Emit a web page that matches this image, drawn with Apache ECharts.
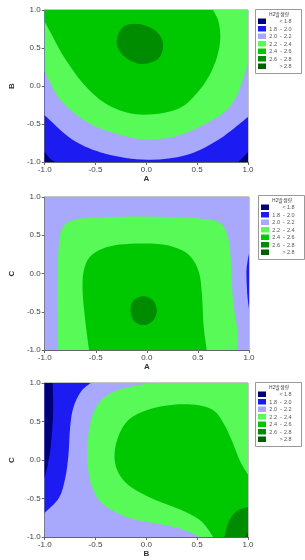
<!DOCTYPE html>
<html lang="ko">
<head>
<meta charset="UTF-8">
<title>H2 발생량 등고선</title>
<script src="https://cdn.jsdelivr.net/npm/echarts@6/dist/echarts.min.js"></script>
<style>
  html, body { margin: 0; padding: 0; background: #fff; }
  #chart { width: 305px; height: 560px; }
</style>
</head>
<body>
<div id="chart"></div>
<script>
// 등급 (범례)
var levelLo = ['', '1.8', '2.0', '2.2', '2.4', '2.6', ''];
var levelSym = ['<', '-', '-', '-', '-', '-', '>'];
var levelHi = ['1.8', '2.0', '2.2', '2.4', '2.6', '2.8', '2.8'];
var colors = ['#000078', '#1c1cf2', '#a8a8fc', '#58fa58', '#00c800', '#008c00', '#006000'];

// 등고선 경계점
// A-B
var abNavyL = [[-1, -0.87], [-0.95, -0.95], [-0.895, -1]];
var abNavyR = [[0.905, -1], [0.95, -0.94], [1, -0.87]];
var abLav = [[-1, -0.385], [-0.717, -0.714], [-0.402, -0.890], [0.008, -0.970], [0.386, -0.912], [0.701, -0.714], [1, -0.407]];
var abLG = [[-1, 0.19], [-0.843, -0.187], [-0.559, -0.495], [-0.244, -0.648], [0.008, -0.700], [0.323, -0.648], [0.701, -0.407], [0.86, -0.2], [0.95, 0.08], [1, 0.32]];
var abGreen = [[-1, 0.846], [-0.937, 0.692], [-0.811, 0.385], [-0.622, 0.033], [-0.402, -0.231], [-0.150, -0.363], [0.071, -0.371], [0.25, -0.33], [0.38, -0.25], [0.48, -0.12], [0.57, 0.03], [0.64, 0.19], [0.70, 0.40], [0.728, 0.63], [0.71, 0.85], [0.656, 1]];
var abDark = [[-0.291, 0.604], [-0.244, 0.758], [-0.150, 0.815], [-0.024, 0.802], [0.102, 0.714], [0.165, 0.560], [0.134, 0.385], [0.039, 0.305], [-0.087, 0.297], [-0.213, 0.385], [-0.276, 0.495]];
// A-C
var acBlue = [[1, 0.26], [0.985, 0.15], [0.975, 0], [0.985, -0.3], [1, -0.46]];
var acLG = [[-0.866, -1], [-0.876, -0.370], [-0.866, 0.283], [-0.829, 0.587], [-0.705, 0.704], [-0.393, 0.735], [0.073, 0.743], [0.540, 0.717], [0.726, 0.652], [0.804, 0.413], [0.826, 0.065], [0.844, -0.370], [0.888, -0.761], [0.882, -1]];
var acGreen = [[-0.565, -1], [-0.605, -0.587], [-0.630, -0.152], [-0.596, 0.130], [-0.487, 0.291], [-0.269, 0.378], [0.042, 0.391], [0.260, 0.348], [0.415, 0.239], [0.509, 0.022], [0.540, -0.283], [0.555, -0.674], [0.586, -1]];
var acDark = [[-0.160, -0.478], [-0.129, -0.348], [-0.036, -0.296], [0.058, -0.348], [0.098, -0.478], [0.067, -0.609], [-0.020, -0.674], [-0.120, -0.630]];
// B-C
var bcBlue = [[-0.547, 1], [-0.641, 0.892], [-0.719, 0.676], [-0.750, 0.417], [-0.766, 0.071], [-0.797, -0.231], [-0.859, -0.490], [-1, -0.685]];
var bcNavy = [[-0.922, 1], [-0.916, 0.633], [-0.938, 0.201], [-0.969, -0.058], [-1, -0.231]];
var bcLG = [[0.047, 1], [-0.266, 0.914], [-0.453, 0.762], [-0.547, 0.503], [-0.578, 0.201], [-0.578, -0.058], [-0.531, -0.361], [-0.422, -0.577], [-0.172, -0.749], [0.141, -0.836], [0.359, -0.901], [0.531, -1]];
var bcGreen = [[1, -0.188], [0.922, -0.015], [0.844, 0.244], [0.766, 0.460], [0.672, 0.633], [0.516, 0.711], [0.266, 0.719], [0.016, 0.654], [-0.172, 0.525], [-0.281, 0.287], [-0.313, 0.028], [-0.266, -0.188], [-0.141, -0.361], [0.078, -0.512], [0.328, -0.641], [0.516, -0.771], [0.609, -0.901], [0.656, -1]];
var bcDark = [[0.766, -1], [0.813, -0.793], [0.891, -0.663], [1, -0.611]];
var bcDarkest = [[0.97, -1], [0.985, -0.965], [1, -0.94]];

var full = [[-1, -1], [1, -1], [1, 1], [-1, 1]];

// 그림별 영역: [등급, 경계, 닫는 모서리, 닫힌 곡선, 직선]
var plots = [
  { x: 'A', y: 'B', regions: [
    [1, full, [], false, true], [0, abNavyL, [[-1, -1]]], [0, abNavyR, [[1, -1]]],
    [2, abLav, [[1, 1], [-1, 1]]], [3, abLG, [[1, 1], [-1, 1]]],
    [4, abGreen, [[-1, 1]]], [5, abDark, [], true]] },
  { x: 'A', y: 'C', regions: [
    [2, full, [], false, true], [1, acBlue, []], [3, acLG, []], [4, acGreen, []], [5, acDark, [], true]] },
  { x: 'B', y: 'C', regions: [
    [2, full, [], false, true], [1, bcBlue, [[-1, 1]]], [0, bcNavy, [[-1, 1]]],
    [3, bcLG, [[1, -1], [1, 1]]], [4, bcGreen, [[1, -1]]], [5, bcDark, [[1, -1]]], [6, bcDarkest, [[1, -1]]]] }
];

var grids = [
  { left: 37, top: 10, width: 211, height: 152 },
  { left: 35, top: 197, width: 214, height: 153 },
  { left: 35, top: 383, width: 213, height: 154 }
];
var legendPos = [[255, 9], [258, 195], [255, 382]];

// 부드러운 경계를 그리는 도형
var Contour = echarts.graphic.extendShape({
  shape: { curve: [], corners: [], loop: false, straight: false },
  buildPath: function (ctx, shape) {
    var p = shape.curve, n = p.length;
    if (!n) return;
    ctx.moveTo(p[0][0], p[0][1]);
    if (shape.straight) {
      for (var s = 1; s < n; s++) ctx.lineTo(p[s][0], p[s][1]);
    } else {
      var get = function (i) {
        if (shape.loop) return p[(i + n) % n];
        return p[Math.max(0, Math.min(n - 1, i))];
      };
      var segs = shape.loop ? n : n - 1;
      for (var i = 0; i < segs; i++) {
        var p0 = get(i - 1), p1 = get(i), p2 = get(i + 1), p3 = get(i + 2);
        ctx.bezierCurveTo(
          p1[0] + (p2[0] - p0[0]) / 6, p1[1] + (p2[1] - p0[1]) / 6,
          p2[0] - (p3[0] - p1[0]) / 6, p2[1] - (p3[1] - p1[1]) / 6,
          p2[0], p2[1]);
      }
    }
    shape.corners.forEach(function (c) { ctx.lineTo(c[0], c[1]); });
    ctx.closePath();
  }
});
echarts.graphic.registerShape('contour', Contour);

var chart = echarts.init(document.getElementById('chart'));
var font = 'Liberation Sans, Arial, sans-serif';

function axis(name, idx, isY) {
  return {
    type: 'value', gridIndex: idx, min: -1, max: 1, interval: 0.5,
    name: name, nameLocation: 'middle', nameGap: isY ? 24 : 13,
    nameRotate: isY ? 90 : 0,
    nameTextStyle: { fontSize: 8, fontWeight: 'bold', color: '#333', fontFamily: font },
    axisLine: { show: true, onZero: false, lineStyle: { color: '#666', width: 1 } },
    axisTick: { show: true, length: 3, lineStyle: { color: '#666' } },
    axisLabel: { fontSize: 8, color: '#444', margin: 4, fontFamily: font, formatter: function (v) { return v.toFixed(1); } },
    splitLine: { show: false }
  };
}

var xAxes = [], yAxes = [], series = [], graphic = [];
plots.forEach(function (p, i) {
  xAxes.push(axis(p.x, i, false));
  yAxes.push(axis(p.y, i, true));
  series.push({
    type: 'custom', xAxisIndex: i, yAxisIndex: i, clip: true, silent: true,
    data: p.regions.map(function (r, k) { return [k]; }),
    renderItem: function (params, api) {
      var r = p.regions[params.dataIndex];
      return {
        type: 'contour',
        shape: {
          curve: r[1].map(function (q) { return api.coord(q); }),
          corners: r[2].map(function (q) { return api.coord(q); }),
          loop: !!r[3],
          straight: !!r[4]
        },
        style: { fill: colors[r[0]], stroke: null }
      };
    }
  });

  // 범례 상자
  var bx = legendPos[i][0], by = legendPos[i][1];
  graphic.push({ type: 'rect', left: bx, top: by, shape: { width: 46, height: 64 }, style: { fill: '#fff', stroke: '#999', lineWidth: 1 } });
  graphic.push({ type: 'text', x: bx + 24, y: by + 3, style: { text: 'H2발생량', fontSize: 5, fill: '#444', textAlign: 'center', fontFamily: 'Noto Sans CJK KR' } });
  for (var k = 0; k < 7; k++) {
    var ry = by + 9.5 + k * 7.5;
    graphic.push({ type: 'rect', left: bx + 3, top: ry, shape: { width: 8, height: 5.5 }, style: { fill: colors[k] } });
    graphic.push({ type: 'text', x: bx + 22, y: ry + 0.2, style: { text: levelLo[k], fontSize: 5.5, fill: '#555', textAlign: 'right', fontFamily: font } });
    graphic.push({ type: 'text', x: bx + 26, y: ry + 0.2, style: { text: levelSym[k], fontSize: 5.5, fill: '#555', textAlign: 'center', fontFamily: font } });
    graphic.push({ type: 'text', x: bx + 29, y: ry + 0.2, style: { text: levelHi[k], fontSize: 5.5, fill: '#555', textAlign: 'left', fontFamily: font } });
  }
});

chart.setOption({
  animation: false,
  grid: grids.map(function (g) { return Object.assign({ show: true, borderColor: '#888', borderWidth: 1, backgroundColor: 'transparent' }, g); }),
  xAxis: xAxes,
  yAxis: yAxes,
  series: series,
  graphic: graphic
});
</script>
</body>
</html>
